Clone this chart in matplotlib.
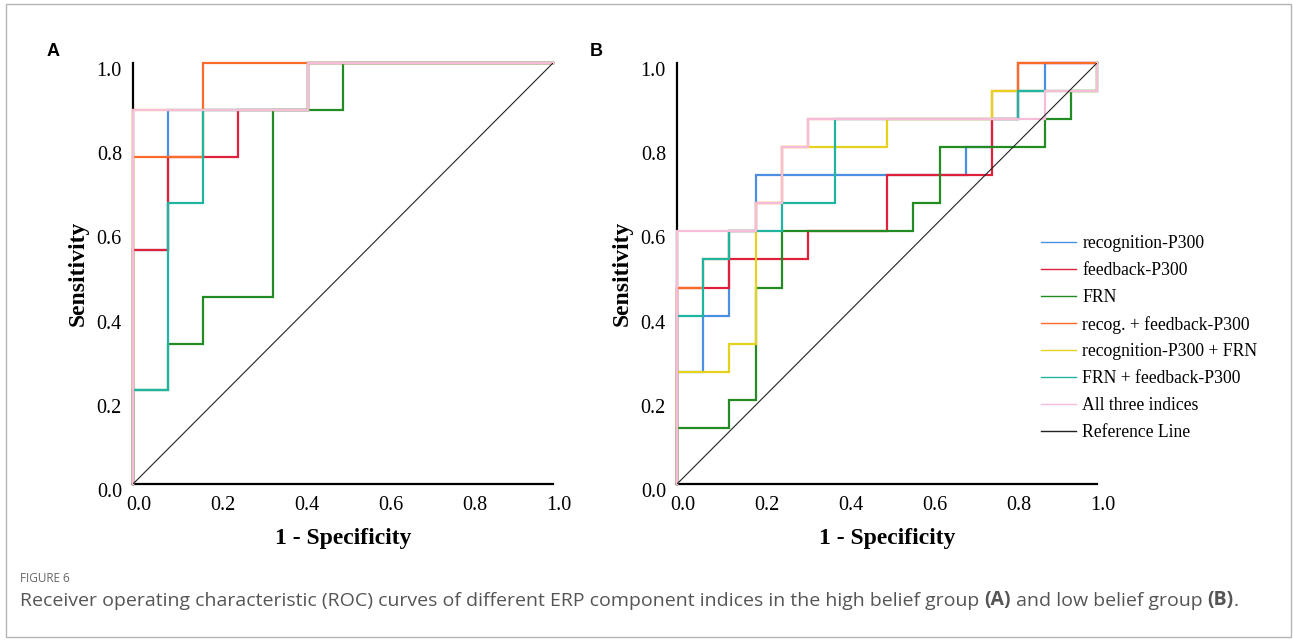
import matplotlib
matplotlib.use("Agg")
import matplotlib.pyplot as plt
import matplotlib.transforms as mtrans
from matplotlib.patches import Rectangle

# labels / colours
labels = ['recognition-P300', 'feedback-P300', 'FRN', 'recog. + feedback-P300',
          'recognition-P300 + FRN', 'FRN + feedback-P300', 'All three indices']
colors = ['#4a90e2', '#e0203a', '#228b22', '#fa6a28', '#e6d21c', '#1fb5a0', '#f7bcd8']

# panel A: high belief group (12 negatives, 9 positives), step vertices in counts
A_NEG, A_POS = 12, 9
a_fpr = [
    [0, 0, 1, 1, 5, 5, 12],                                  # recognition-P300
    [0, 0, 1, 1, 3, 3, 5, 5, 12],                            # feedback-P300
    [0, 0, 1, 1, 2, 2, 4, 4, 6, 6, 12],                      # FRN
    [0, 0, 2, 2, 12],                                        # recog + feedback
    [0, 0, 5, 5, 12],                                        # recog + FRN
    [0, 0, 1, 1, 2, 2, 5, 5, 12],                            # FRN + feedback
    [0, 0, 5, 5, 12],                                        # all three
]
a_tpr = [
    [0, 5, 5, 8, 8, 9, 9],
    [0, 5, 5, 7, 7, 8, 8, 9, 9],
    [0, 2, 2, 3, 3, 4, 4, 8, 8, 9, 9],
    [0, 7, 7, 9, 9],
    [0, 8, 8, 9, 9],
    [0, 2, 2, 6, 6, 8, 8, 9, 9],
    [0, 8, 8, 9, 9],
]

# panel B: low belief group (16 negatives, 15 positives)
B_NEG, B_POS = 16, 15
b_fpr = [
    [0, 0, 1, 1, 2, 2, 3, 3, 11, 11, 12, 12, 13, 13, 14, 14, 16],
    [0, 0, 2, 2, 5, 5, 8, 8, 12, 12, 13, 13, 16],
    [0, 0, 2, 2, 3, 3, 4, 4, 9, 9, 10, 10, 14, 14, 15, 15, 16, 16],
    [0, 0, 1, 1, 2, 2, 3, 3, 4, 4, 5, 5, 12, 12, 13, 13, 16],
    [0, 0, 2, 2, 3, 3, 4, 4, 8, 8, 12, 12, 16, 16],
    [0, 0, 1, 1, 2, 2, 4, 4, 6, 6, 13, 13, 16, 16],
    [0, 0, 3, 3, 4, 4, 5, 5, 14, 14, 16, 16],
]
b_tpr = [
    [0, 4, 4, 6, 6, 9, 9, 11, 11, 12, 12, 13, 13, 14, 14, 15, 15],
    [0, 7, 7, 8, 8, 9, 9, 11, 11, 13, 13, 15, 15],
    [0, 2, 2, 3, 3, 7, 7, 9, 9, 10, 10, 12, 12, 13, 13, 14, 14, 15],
    [0, 7, 7, 8, 8, 9, 9, 10, 10, 12, 12, 13, 13, 14, 14, 15, 15],
    [0, 4, 4, 5, 5, 10, 10, 12, 12, 13, 13, 14, 14, 15],
    [0, 6, 6, 8, 8, 9, 9, 10, 10, 13, 13, 14, 14, 15],
    [0, 9, 9, 10, 10, 12, 12, 13, 13, 14, 14, 15],
]

ticks = [0.0, 0.2, 0.4, 0.6, 0.8, 1.0]
tick_labels = ['0.0', '0.2', '0.4', '0.6', '0.8', '1.0']

plt.rcParams['font.family'] = ['Liberation Serif', 'DejaVu Serif']

fig = plt.figure(figsize=(12.93, 6.41), dpi=100)
W, H = 1293, 641


def make_axes(x0, fprs, tprs, n_neg, n_pos):
    ax = fig.add_axes([x0 / W, 1 - 484 / H, 420 / W, 421 / H])
    for fx, ty, c, lab in zip(fprs, tprs, colors, labels):
        ax.plot([v / n_neg for v in fx], [v / n_pos for v in ty], color=c,
                lw=1.6, label=lab, clip_on=False, solid_joinstyle='miter', zorder=3)
    ax.plot([0, 1], [0, 1], color='#222222', lw=0.8, label='Reference Line', zorder=4)
    ax.set_xlim(0, 1)
    ax.set_ylim(0, 1)
    for s in ['top', 'right']:
        ax.spines[s].set_visible(False)
    for s in ['left', 'bottom']:
        ax.spines[s].set_linewidth(1.6)
        ax.spines[s].set_zorder(2)
    ax.set_xticks(ticks)
    ax.set_yticks(ticks)
    ax.set_xticklabels(tick_labels, fontsize=14.5)
    ax.set_yticklabels(tick_labels, fontsize=14.5)
    ax.tick_params(length=0, pad=9)
    ax.tick_params(axis='y', pad=8)
    dx = mtrans.ScaledTranslation(6 / 100, 0, fig.dpi_scale_trans)
    dy = mtrans.ScaledTranslation(0, -6 / 100, fig.dpi_scale_trans)
    for t in ax.get_xticklabels():
        t.set_transform(t.get_transform() + dx)
    for t in ax.get_yticklabels():
        t.set_transform(t.get_transform() + dy)
    ax.set_xlabel('1 - Specificity', fontsize=17, fontweight='bold', labelpad=9)
    ax.set_ylabel('Sensitivity', fontsize=17, fontweight='bold', labelpad=6)
    ax.patch.set_alpha(0)
    return ax


axA = make_axes(133, a_fpr, a_tpr, A_NEG, A_POS)
axB = make_axes(677, b_fpr, b_tpr, B_NEG, B_POS)

leg = axB.legend(loc='upper left', bbox_to_anchor=(1041 / W, 1 - 235 / H),
                 bbox_transform=fig.transFigure, frameon=False, fontsize=12.7,
                 handlelength=2.0, handletextpad=0.35, labelspacing=0.56,
                 borderpad=0, borderaxespad=0)
for ln in leg.get_lines():
    ln.set_linewidth(1.0)

fig.text(47 / W, 1 - 51 / H, 'A', fontsize=13, fontweight='bold',
         family='Liberation Sans', va='center', ha='left')
fig.text(590 / W, 1 - 51 / H, 'B', fontsize=13, fontweight='bold',
         family='Liberation Sans', va='center', ha='left')

# caption
fig.text(20 / W, 1 - 578 / H, 'FIGURE 6', fontsize=8.5, family='Open Sans',
         color='#666666', va='center', ha='left')
parts = [('Receiver operating characteristic (ROC) curves of different ERP component '
          'indices in the high belief group ', 'normal'), ('(A)', 'bold'),
         (' and low belief group ', 'normal'), ('(B)', 'bold'), ('.', 'normal')]
last = None
for txt, wt in parts:
    if last is None:
        last = fig.text(20 / W, 1 - 601 / H, txt, fontsize=14, family='Open Sans',
                        color='#555555', fontweight=wt, va='center', ha='left')
    else:
        last = plt.annotate(txt, xy=(1, 0), xycoords=last, va='bottom', ha='left',
                            fontsize=14, family='Open Sans', color='#555555',
                            fontweight=wt, annotation_clip=False)

fig.patches.append(Rectangle((6 / W, 1 - 637 / H), 1285 / W, 633 / H,
                             transform=fig.transFigure, fill=False,
                             edgecolor='#b5b5b5', lw=1.0))

fig.savefig('out.png', dpi=100)
